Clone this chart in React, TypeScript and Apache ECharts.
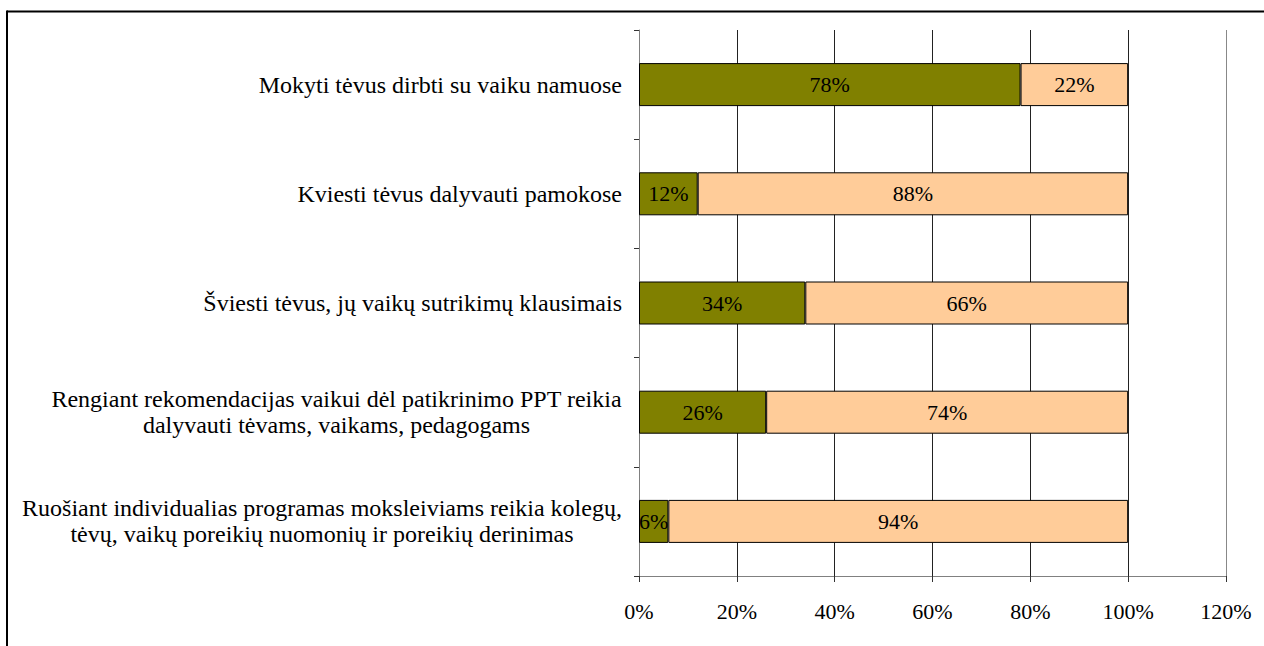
import React, { useEffect, useRef } from "react";
import * as echarts from "echarts";

const categories: string[] = [
  "Mokyti tėvus dirbti su vaiku namuose",
  "Kviesti tėvus dalyvauti pamokose",
  "Šviesti tėvus, jų vaikų sutrikimų klausimais",
  "Rengiant rekomendacijas vaikui dėl patikrinimo PPT reikia\ndalyvauti tėvams, vaikams, pedagogams",
  "Ruošiant individualias programas moksleiviams reikia kolegų,\ntėvų, vaikų poreikių nuomonių ir poreikių derinimas",
];
const seriesA: number[] = [78, 12, 34, 26, 6];
const seriesB: number[] = [22, 88, 66, 74, 94];
const xTicks = { min: 0, max: 120, interval: 20 };

const FONT = "Liberation Serif";
const FS = 22;
const CAT_FS = 24;

function measure(text: string): number {
  const c = document.createElement("canvas");
  const ctx = c.getContext("2d");
  if (!ctx) return text.length * 10;
  ctx.font = `${CAT_FS}px "${FONT}"`;
  return Math.max(...text.split("\n").map((l) => ctx.measureText(l).width));
}

export default function App() {
  const ref = useRef<HTMLDivElement>(null);
  useEffect(() => {
    if (!ref.current) return;
    const chart = echarts.init(ref.current, undefined, { renderer: "svg" });
    const catData = categories.map((c) => {
      if (c.indexOf("\n") < 0) return c;
      const w = Math.ceil(measure(c));
      return {
        value: c,
        textStyle: { align: "center", padding: [0, w, 0, 0], lineHeight: 26 },
      };
    });
    chart.setOption({
      animation: false,
      backgroundColor: "#fff",
      textStyle: { fontFamily: FONT },
      graphic: [
        {
          type: "line",
          shape: { x1: 7, y1: 11.5, x2: 1264, y2: 11.5 },
          style: { stroke: "#000", lineWidth: 2 },
          silent: true,
          z: 100,
        },
        {
          type: "line",
          shape: { x1: 7, y1: 10.5, x2: 7, y2: 646 },
          style: { stroke: "#000", lineWidth: 2 },
          silent: true,
          z: 100,
        },
      ],
      grid: { left: 639, right: 38, top: 30, bottom: 70 },
      xAxis: {
        type: "value",
        min: xTicks.min,
        max: xTicks.max,
        interval: xTicks.interval,
        axisLine: { show: true, lineStyle: { color: "#808080", width: 1 } },
        axisTick: { show: true, length: 6, lineStyle: { color: "#333" } },
        axisLabel: {
          formatter: "{value}%",
          color: "#000",
          fontSize: FS,
          fontFamily: FONT,
          margin: 24,
        },
        splitLine: {
          show: true,
          lineStyle: {
            color: ["#333", "#222", "#222", "#222", "#222", "#222", "#888"],
            width: 1,
          },
        },
      },
      yAxis: {
        type: "category",
        inverse: true,
        data: catData,
        axisLine: { show: true, lineStyle: { color: "#808080", width: 1 } },
        axisTick: { show: true, length: 5, lineStyle: { color: "#333" } },
        axisLabel: {
          color: "#000",
          fontSize: CAT_FS,
          fontFamily: FONT,
          margin: 17,
          lineHeight: 26,
        },
      },
      series: [
        {
          type: "bar",
          stack: "s",
          data: seriesA,
          barWidth: 43,
          itemStyle: { color: "#808000", borderColor: "#000", borderWidth: 1 },
          label: {
            show: true,
            position: "inside",
            formatter: "{c}%",
            color: "#000",
            fontSize: FS,
            fontFamily: FONT,
          },
        },
        {
          type: "bar",
          stack: "s",
          data: seriesB,
          barWidth: 43,
          itemStyle: { color: "#FFCC99", borderColor: "#000", borderWidth: 1 },
          label: {
            show: true,
            position: "inside",
            formatter: "{c}%",
            color: "#000",
            fontSize: FS,
            fontFamily: FONT,
          },
        },
      ],
    });
    return () => chart.dispose();
  }, []);
  return (
    <div
      style={{
        position: "absolute",
        left: 0,
        top: 0,
        width: 1264,
        height: 646,
        overflow: "hidden",
        background: "#fff",
      }}
    >
      <div ref={ref} style={{ width: 1264, height: 646 }} />
    </div>
  );
}
